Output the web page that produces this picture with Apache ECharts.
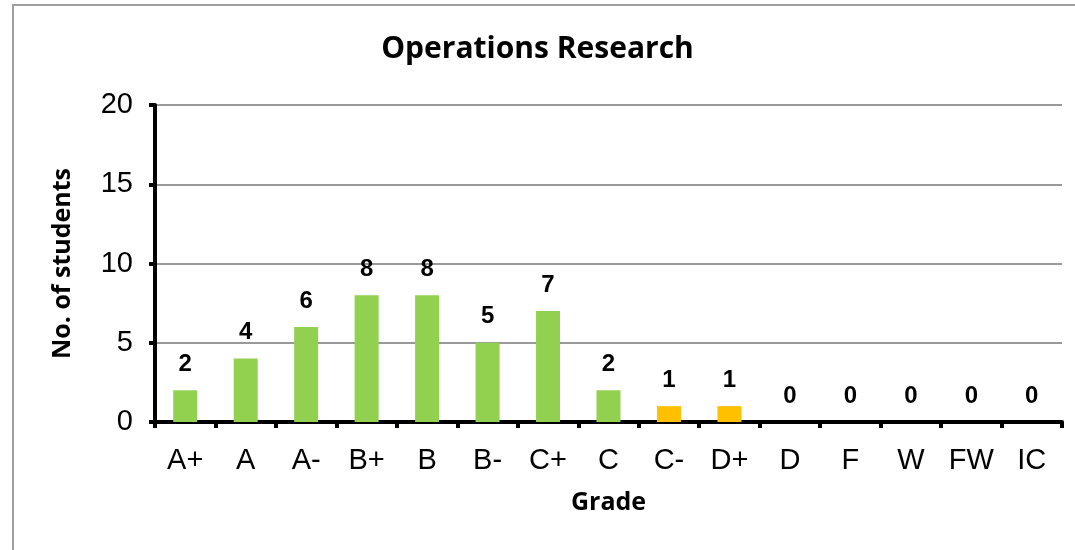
<!DOCTYPE html>
<html>
<head>
<meta charset="utf-8">
<script src="https://cdn.jsdelivr.net/npm/echarts@6/dist/echarts.min.js"></script>
<style>
  html, body { margin: 0; padding: 0; background: #fff; }
  #chart { width: 1075px; height: 550px; }
</style>
</head>
<body>
<div id="chart"></div>
<script>
// grades and counts
const grades = ['A+', 'A', 'A-', 'B+', 'B', 'B-', 'C+', 'C', 'C-', 'D+', 'D', 'F', 'W', 'FW', 'IC'];
const students = [2, 4, 6, 8, 8, 5, 7, 2, 1, 1, 0, 0, 0, 0, 0];
// bars C- and D+ drawn in orange
const warnGrades = ['C-', 'D+'];

const green = '#92D050';
const orange = '#FFC000';

let myChart = echarts.init(document.getElementById('chart'));

let option = {
  animation: false,
  title: {
    text: 'Operations Research',
    left: 'center',
    top: 29,
    textStyle: { fontFamily: 'Open Sans', fontWeight: 'bold', fontSize: 30, color: '#000' }
  },
  graphic: [{
    type: 'rect',
    shape: { x: 13, y: 5, width: 1100, height: 600 },
    style: { fill: 'none', stroke: '#a0a0a0', lineWidth: 2 },
    silent: true
  }],
  grid: { left: 155, right: 13, top: 105, bottom: 128 },
  xAxis: {
    type: 'category',
    data: grades,
    name: 'Grade',
    nameLocation: 'middle',
    nameGap: 68,
    nameTextStyle: { fontFamily: 'Open Sans', fontWeight: 'bold', fontSize: 25, color: '#000' },
    axisLine: { lineStyle: { color: '#000', width: 4 } },
    axisTick: { show: true, length: 6, lineStyle: { color: '#000', width: 4 } },
    axisLabel: { fontFamily: 'Liberation Sans', fontSize: 29, color: '#000', margin: 24 }
  },
  yAxis: {
    type: 'value',
    min: 0,
    max: 20,
    interval: 5,
    name: 'No. of students',
    nameLocation: 'middle',
    nameGap: 80,
    nameTextStyle: { fontFamily: 'Open Sans', fontWeight: 'bold', fontSize: 25, color: '#000' },
    axisLine: { show: true, lineStyle: { color: '#000', width: 4 } },
    axisTick: { show: true, length: 6, lineStyle: { color: '#000', width: 4 } },
    axisLabel: { fontFamily: 'Liberation Sans', fontSize: 29, color: '#000', margin: 22 },
    splitLine: { lineStyle: { color: '#999', width: 2 } }
  },
  series: [{
    type: 'bar',
    barWidth: 24,
    data: students.map((v, i) => ({
      value: v,
      itemStyle: { color: warnGrades.includes(grades[i]) ? orange : green }
    })),
    label: {
      show: true,
      position: 'top',
      distance: 14,
      fontFamily: 'Liberation Sans',
      fontWeight: 'bold',
      fontSize: 24,
      color: '#000'
    }
  }]
};

myChart.setOption(option);
</script>
</body>
</html>
